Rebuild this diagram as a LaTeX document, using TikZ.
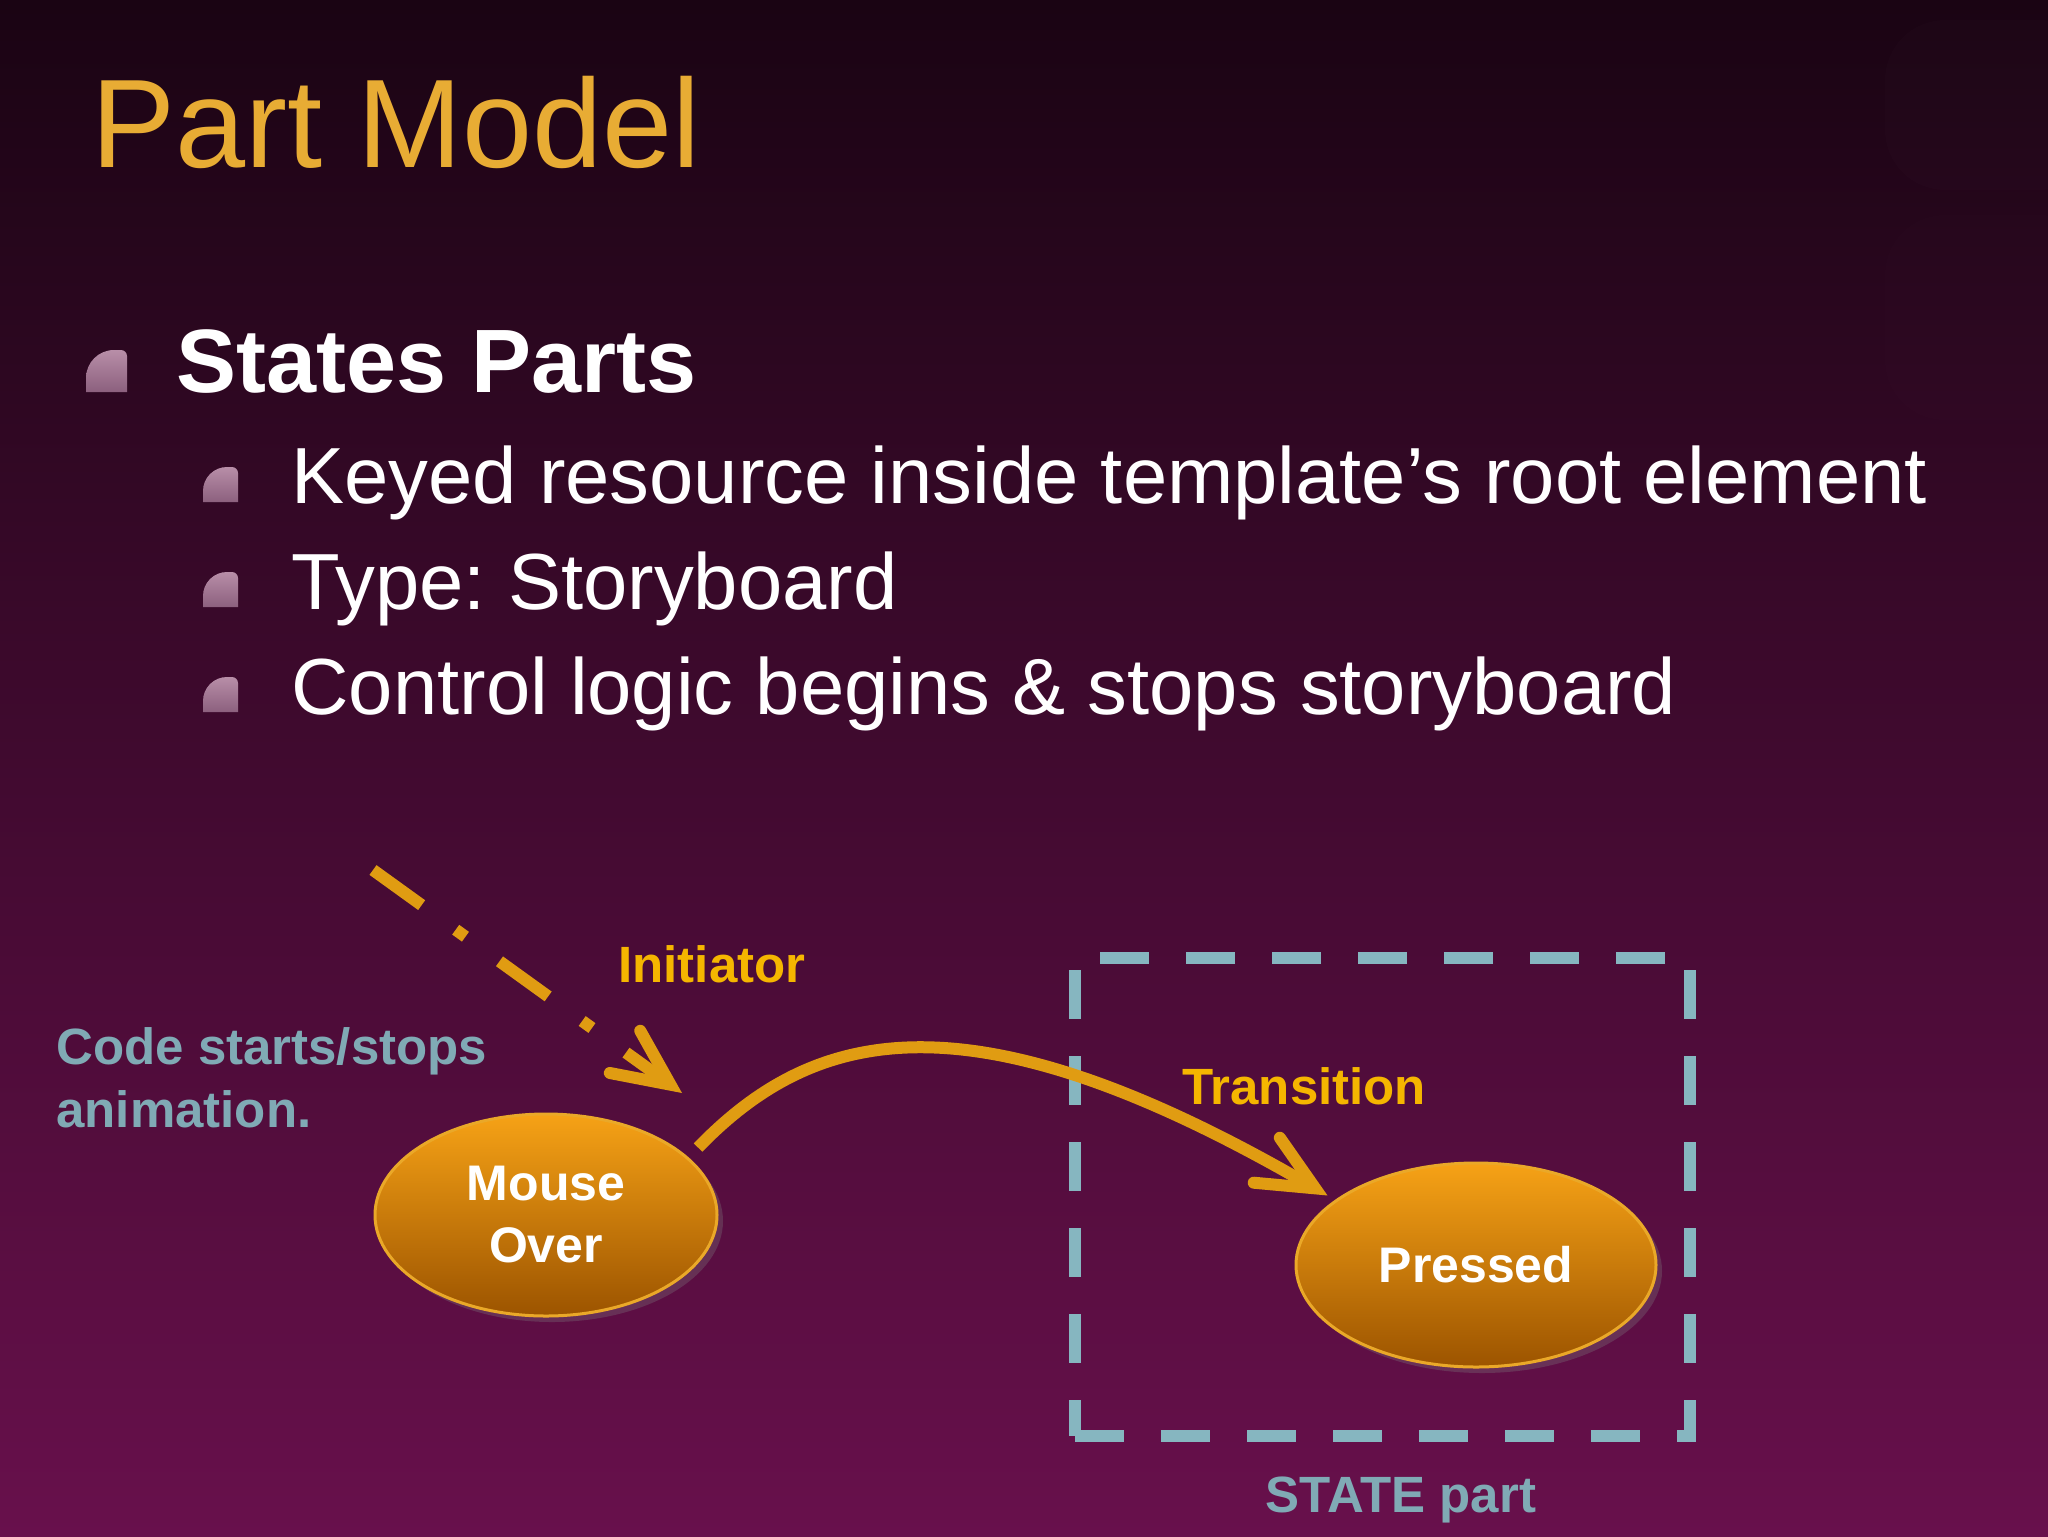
\documentclass[tikz,border=0pt]{standalone}
\usepackage{fontspec}
\setmainfont{Liberation Sans}
\usepackage{xcolor}
\usepackage{tikz}
\usetikzlibrary{shapes.geometric,arrows.meta,positioning,shadows}
\frenchspacing
\definecolor{bgtop}{RGB}{26, 4, 19}
\definecolor{bgmid}{RGB}{70, 12, 56}
\definecolor{bgbot}{RGB}{104, 16, 76}
\definecolor{partgold}{RGB}{232, 172, 52}
\definecolor{labelgold}{RGB}{245, 182, 0}
\definecolor{linegold}{RGB}{224, 156, 18}
\definecolor{ovaltop}{RGB}{246, 162, 22}
\definecolor{ovalbot}{RGB}{156, 84, 0}
\definecolor{ovalrim}{RGB}{234, 168, 40}
\definecolor{statecyan}{RGB}{134, 182, 192}
\definecolor{codeteal}{RGB}{128, 170, 181}
\definecolor{bulletlight}{RGB}{184, 142, 168}
\definecolor{bulletdark}{RGB}{140, 96, 126}

\tikzset{
    slidetitle/.style={text=partgold, font=\fontsize{63}{76}\selectfont, anchor=base west, inner sep=0pt},
    headline/.style={text=white, font=\fontsize{45}{54}\selectfont\bfseries, anchor=base west, inner sep=0pt},
    bodyline/.style={text=white, font=\fontsize{39.8}{48}\selectfont, anchor=base west, inner sep=0pt},
    goldlabel/.style={text=labelgold, font=\fontsize{25.5}{31}\selectfont\bfseries, anchor=base west, inner sep=0pt},
    teallabel/.style={text=codeteal, font=\fontsize{25.5}{31}\selectfont\bfseries, anchor=base west, inner sep=0pt},
    statenode/.style={
        ellipse,
        draw=ovalrim,
        line width=1.5pt,
        top color=ovaltop,
        bottom color=ovalbot,
        text=white,
        font=\fontsize{25}{31}\selectfont\bfseries,
        align=center,
        inner sep=0pt,
        drop shadow={opacity=0.3,shadow xshift=3pt,shadow yshift=-3pt}
    },
    flowline/.style={
        draw=linegold,
        line width=6pt,
        -{Straight Barb[length=28pt,width=26pt,line cap=round,line join=miter]}
    },
    initline/.style={flowline, dash pattern=on 30pt off 21pt on 6pt off 21pt},
    statebox/.style={draw=statecyan, line width=6pt, dash pattern=on 24.5pt off 18.5pt},
    leaf/.style={top color=bulletlight, bottom color=bulletdark}
}

\begin{document}
\begin{tikzpicture}[x=0.5pt,y=-0.5pt]
\useasboundingbox (0,0) rectangle (2048,1536);
\shade[top color=bgtop, middle color=bgmid, bottom color=bgbot] (0,0) rectangle (2048,1536);
\fill[white, opacity=0.01, rounded corners=30pt] (1885,20) rectangle (2100,190);
\fill[white, opacity=0.008, rounded corners=30pt] (1885,215) rectangle (2100,420);

\node[slidetitle] (title) at (91,167) {Part Model};

\shade[leaf] (86,392) [rounded corners=14pt] -- (86,350) [rounded corners=3pt] -- (127,350) [sharp corners] -- (127,392) -- cycle;
\node[headline] (states) at (176,392) {States Parts};

\foreach \by in {502,607,712}
    \shade[leaf] (203,\by) [rounded corners=12pt] -- (203,\by-35) [rounded corners=3pt] -- (238,\by-35) [sharp corners] -- (238,\by) -- cycle;
\node[bodyline] (keyed) at (291,503) {Keyed resource inside template’s root element};
\node[bodyline] (sbtype) at (291,609) {Type: Storyboard};
\node[bodyline] (logic) at (291,714) {Control logic begins \& stops storyboard};

\node[teallabel] (code) at (56,1064) {Code starts/stops};
\node[teallabel] (anim) at (56,1127) {animation.};
\node[goldlabel] (initiator) at (618,982) {Initiator};
\node[goldlabel] (transition) at (1182,1104) {Transition};

\draw[statebox] (1075,1436) -- (1690,1436) -- (1690,958) -- (1075,958) -- cycle;
\node[teallabel, anchor=base] (statepart) at (1401,1512) {STATE part};

\node[statenode, minimum width=171pt, minimum height=101pt] (mouseover) at (546,1215) {Mouse\\Over};
\node[statenode, minimum width=180pt, minimum height=102pt] (pressed) at (1476,1265) {Pressed};

\coordinate (initfrom) at (373,870);
\coordinate (initto) at (682,1093);
\draw[initline] (initfrom) -- (initto);

\draw[flowline] ([shift={(14,-6)}]mouseover.24) .. controls (812,1030) and (965,985) .. ([shift={(-8,-4)}]pressed.155);
\end{tikzpicture}
\end{document}
